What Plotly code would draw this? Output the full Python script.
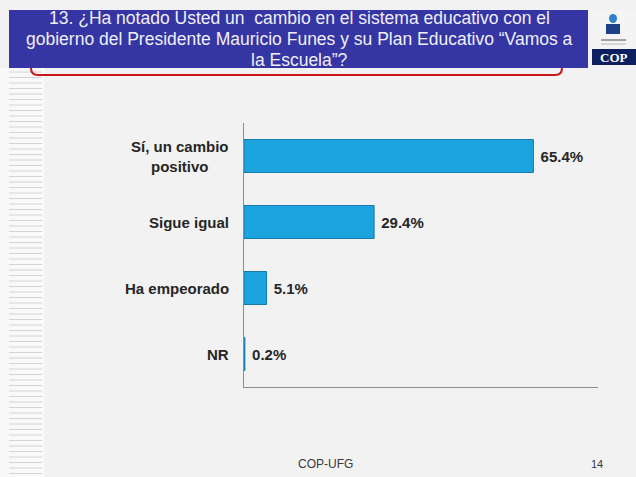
import plotly.graph_objects as go

categories = ['Sí, un cambio<br>positivo', 'Sigue igual', 'Ha empeorado', 'NR']
values = [65.4, 29.4, 5.1, 0.2]
value_labels = ['65.4%', '29.4%', '5.1%', '0.2%']

title_lines = ['13. ¿Ha notado Usted un  cambio en el sistema educativo con el',
               'gobierno del Presidente Mauricio Funes y su Plan Educativo “Vamos a',
               'la Escuela”?']

# plot area in pixels (used to place the slide decoration)
L, R, T, B = 244, 598, 123, 387
W, H = 636, 477
FONT = 'Arial, Liberation Sans, sans-serif'


def px(x):
    return (x - L) / (R - L)


def py(y):
    return (B - y) / (B - T)


fig = go.Figure()
fig.add_trace(go.Bar(
    x=values, y=categories, orientation='h', width=0.5,
    marker=dict(color='#1ca4de', line=dict(color='#1679ad', width=1)),
    text=value_labels, texttemplate=' <b>%{text}</b>', textposition='outside',
    cliponaxis=False,
    textfont=dict(family=FONT, size=15, color='#262626'),
))

shapes = []
# striped band on the left
shapes.append(dict(type='rect', xref='paper', yref='paper', x0=px(0), x1=px(44),
                   y0=py(68), y1=py(H), fillcolor='#f9f9f9', line_width=0, layer='below'))
yy = 72
while yy < H:
    shapes.append(dict(type='line', xref='paper', yref='paper', x0=px(9), x1=px(42),
                       y0=py(yy), y1=py(yy), line=dict(color='#d4d4d4', width=1), layer='below'))
    yy += 5.5

# red rounded frame behind the title
path = 'M {a},{b} L {a},{c} Q {a},{d} {e},{d} L {f},{d} Q {g},{d} {g},{c} L {g},{b}'.format(
    a=px(31), b=py(45), c=py(68), d=py(75), e=px(38), f=px(555), g=px(562))
shapes.append(dict(type='path', xref='paper', yref='paper', path=path,
                   line=dict(color='#c8161d', width=2)))
# title box
shapes.append(dict(type='rect', xref='paper', yref='paper', x0=px(9), x1=px(588),
                   y0=py(10), y1=py(68), fillcolor='#3535a4', line_width=0))
# logo
shapes.append(dict(type='rect', xref='paper', yref='paper', x0=px(592), x1=px(636),
                   y0=py(10), y1=py(65), fillcolor='#f4f4f4', line_width=0))
shapes.append(dict(type='rect', xref='paper', yref='paper', x0=px(592), x1=px(636),
                   y0=py(49), y1=py(65), fillcolor='#0c1f5e', line_width=0))
shapes.append(dict(type='circle', xref='paper', yref='paper', x0=px(609), x1=px(617),
                   y0=py(14), y1=py(23), fillcolor='#2f7fd0', line_width=0))
shapes.append(dict(type='rect', xref='paper', yref='paper', x0=px(606), x1=px(620),
                   y0=py(24), y1=py(34), fillcolor='#1d3f8a', line_width=0))
shapes.append(dict(type='line', xref='paper', yref='paper', x0=px(601), x1=px(626),
                   y0=py(40), y1=py(40), line=dict(color='#a0a0a0', width=2)))
shapes.append(dict(type='line', xref='paper', yref='paper', x0=px(601), x1=px(626),
                   y0=py(44), y1=py(44), line=dict(color='#b8b8b8', width=1)))

annotations = []
for line, cy in zip(title_lines, [18, 39, 60]):
    annotations.append(dict(text=line, xref='paper', yref='paper', x=px(299), y=py(cy),
                            xanchor='center', yanchor='middle', showarrow=False,
                            font=dict(family=FONT, size=17.5, color='#f0f0f8')))
annotations += [
    dict(text='<b>COP</b>', xref='paper', yref='paper', x=px(614), y=py(57),
         xanchor='center', yanchor='middle', showarrow=False,
         font=dict(family='Liberation Serif, serif', size=13, color='#ffffff')),
    dict(text='COP-UFG', xref='paper', yref='paper', x=px(325), y=py(464),
         xanchor='center', yanchor='middle', showarrow=False,
         font=dict(family=FONT, size=12, color='#3a3a3a')),
    dict(text='14', xref='paper', yref='paper', x=px(597), y=py(464),
         xanchor='center', yanchor='middle', showarrow=False,
         font=dict(family=FONT, size=11, color='#3a3a3a')),
]
# category labels, centred like the original slide
for c in categories:
    annotations.append(dict(text='<b>' + c + '</b>', x=0, y=c, xref='x', yref='y',
                            xanchor='right', yanchor='middle', align='center', xshift=-13,
                            showarrow=False,
                            font=dict(family=FONT, size=15, color='#262626')))

fig.update_layout(
    width=W, height=H,
    margin=dict(l=L, r=W - R, t=T, b=H - B, pad=0),
    paper_bgcolor='#f2f2f2', plot_bgcolor='#f2f2f2',
    showlegend=False,
    shapes=shapes, annotations=annotations,
    xaxis=dict(range=[0, 80], showgrid=False, zeroline=False, showticklabels=False,
               showline=True, linecolor='#8c8c8c', linewidth=1, fixedrange=True),
    yaxis=dict(autorange='reversed', showgrid=False, zeroline=False, showticklabels=False,
               showline=True, linecolor='#8c8c8c', linewidth=1, fixedrange=True),
)

fig.write_html("out.html", config={'displayModeBar': False},
               post_script="document.body.style.margin='0';")
